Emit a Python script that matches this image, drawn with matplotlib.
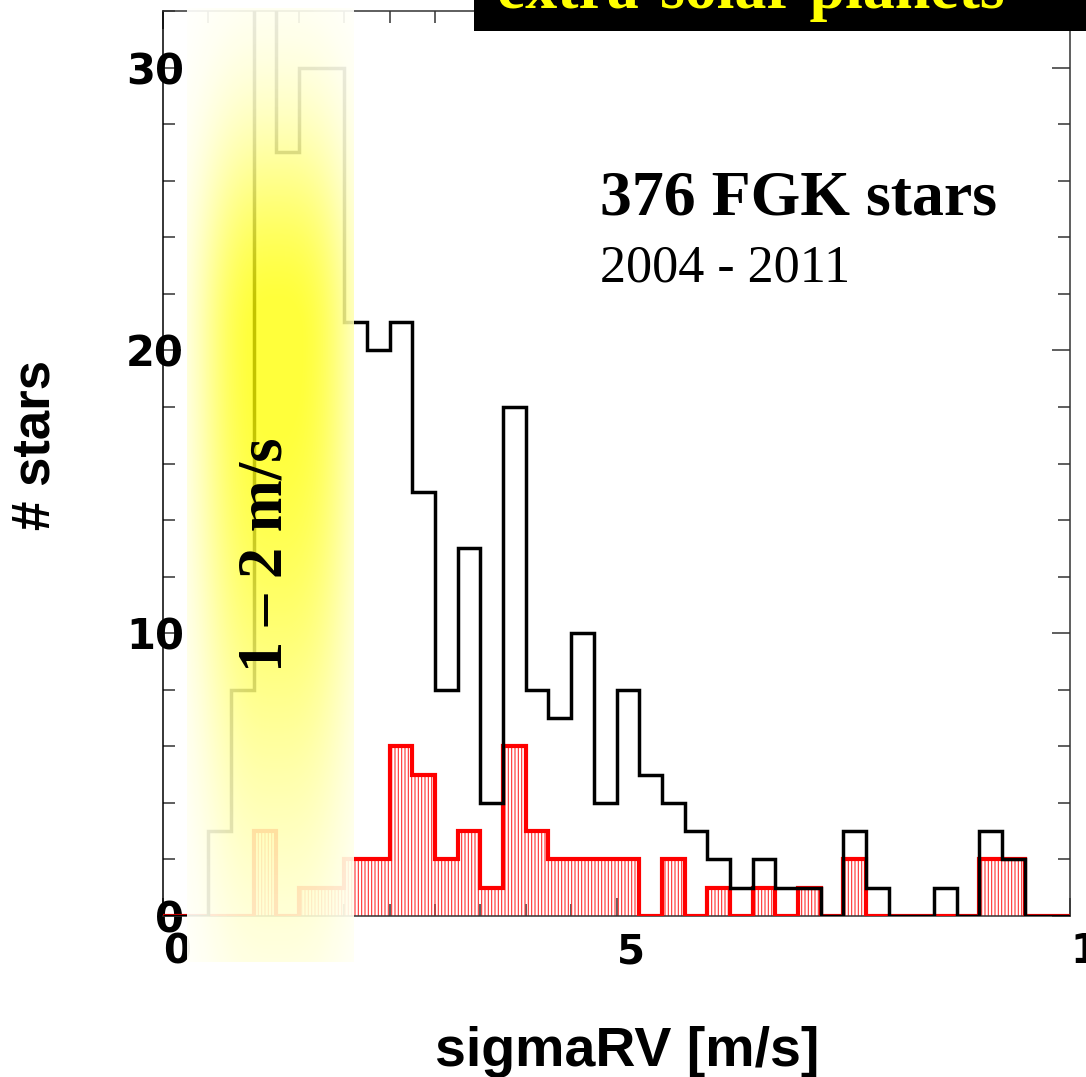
import numpy as np
import matplotlib
matplotlib.use("Agg")
import matplotlib.pyplot as plt
from matplotlib.patches import Rectangle
from matplotlib.ticker import MultipleLocator, FixedLocator

# ---------------- data ----------------
bin_edges = np.arange(0, 10.0001, 0.25)
all_stars = [0, 0, 3, 8, 38, 27, 30, 30, 21, 20,
             21, 15, 8, 13, 4, 18, 8, 7, 10, 4,
             8, 5, 4, 3, 2, 1, 2, 1, 1, 0,
             3, 1, 0, 0, 1, 0, 3, 2, 0, 0]
planet_hosts = [0, 0, 0, 0, 3, 0, 1, 1, 2, 2,
                6, 5, 2, 3, 1, 6, 3, 2, 2, 2,
                2, 0, 2, 0, 1, 0, 1, 0, 1, 0,
                2, 0, 0, 0, 0, 0, 2, 2, 0, 0]
x_ticks = [0, 5, 10]
x_ticklabels = ["0", "5", "10"]
y_ticks = [0, 10, 20, 30]
y_ticklabels = ["0", "10", "20", "30"]

W, H = 1086, 1077
plt.rcParams['hatch.linewidth'] = 0.8
fig = plt.figure(figsize=(W / 100, H / 100), dpi=100)

def fx(px):
    return px / W

def fy(py):
    return (H - py) / H

ax = fig.add_axes([fx(163), fy(916), fx(1070) - fx(163), fy(11) - fy(916)])
ax.set_xlim(0, 10)
ax.set_ylim(0, 32)

# hatched red bars
ax.bar(bin_edges[:-1], planet_hosts, width=0.25, align='edge', fill=False,
       hatch='|||||', edgecolor='#ff3030', linewidth=0, zorder=2)
ax.stairs(planet_hosts, bin_edges, baseline=0, color='#ff0000', linewidth=3.0, zorder=3)
ax.stairs(all_stars, bin_edges, baseline=0, color='black', linewidth=2.5, zorder=4)

# ticks
ax.xaxis.set_major_locator(FixedLocator(x_ticks))
ax.set_xticklabels(x_ticklabels)
ax.xaxis.set_minor_locator(MultipleLocator(0.5))
ax.yaxis.set_major_locator(FixedLocator(y_ticks))
ax.set_yticklabels(y_ticklabels)
ax.yaxis.set_minor_locator(MultipleLocator(2))
ax.tick_params(which='both', direction='in', top=True, right=True,
               color='#333333', width=1.1)
ax.tick_params(which='major', length=13)
ax.tick_params(which='minor', length=8.5)
ax.tick_params(axis='y', which='major', pad=-15)
ax.tick_params(axis='x', which='major', pad=12)
for lab in ax.get_yticklabels():
    lab.set_fontfamily('DejaVu Sans')
    lab.set_fontweight('bold')
    lab.set_fontsize(30)
    lab.set_horizontalalignment('right')
    lab.set_zorder(6)
for lab in ax.get_xticklabels():
    lab.set_fontfamily('DejaVu Sans')
    lab.set_fontweight('bold')
    lab.set_fontsize(29)
    lab.set_horizontalalignment('left')
for sp in ax.spines.values():
    sp.set_linewidth(1.1)
    sp.set_color('#333333')
ax.spines['left'].set_color('black')

# axis labels
fig.text(fx(627), fy(1052), "sigmaRV [m/s]", family='Liberation Sans',
         weight='bold', fontsize=40, ha='center', va='center')
fig.text(fx(35), fy(445), "# stars", family='Liberation Sans',
         weight='bold', fontsize=38, ha='center', va='center', rotation=90)

# yellow highlight band (1-2 m/s)
x0, x1, y0, y1 = 187, 354, 8, 962
nx, ny = x1 - x0, y1 - y0
xx = np.arange(nx)[None, :] + x0
yy = np.arange(ny)[:, None] + y0
gx = np.exp(-(np.abs(xx - 276) / 72.0) ** 3)
sig = np.where(yy < 340, 195.0, 430.0)
gy = np.exp(-((yy - 340) / sig) ** 2)
g = np.clip(gx * gy * 1.05, 0, 1)
img = np.zeros((ny, nx, 4))
img[..., 0] = 1.0
img[..., 1] = 1.0
img[..., 2] = 1.0 - g
img[..., 3] = 0.93 - 0.16 * g
bax = fig.add_axes([fx(x0), fy(y1), fx(x1) - fx(x0), fy(y0) - fy(y1)], zorder=2)
bax.imshow(img, aspect='auto', interpolation='bilinear')
bax.axis('off')

fig.text(fx(266), fy(555), "1 \u2013 2 m/s", family='Liberation Serif',
         weight='bold', fontsize=45, ha='center', va='center', rotation=90, zorder=5)

# annotation texts
fig.text(fx(600), fy(215), "376 FGK stars", family='Liberation Serif',
         weight='bold', fontsize=46, ha='left', va='baseline', zorder=5)
fig.text(fx(600), fy(282), "2004 - 2011", family='Liberation Serif',
         fontsize=37.5, ha='left', va='baseline', zorder=5)

# title box at the top (cut off)
fig.patches.append(Rectangle((fx(474), fy(31)), 1 - fx(474), fy(0) - fy(31) + 0.01,
                             transform=fig.transFigure, facecolor='black',
                             edgecolor='none', zorder=6))
fig.text(fx(497), fy(8), "extra-solar planets", family='Liberation Serif',
         weight='bold', fontsize=46, color='#ffff00', ha='left', va='baseline', zorder=7)

fig.savefig("out.png", dpi=100)
